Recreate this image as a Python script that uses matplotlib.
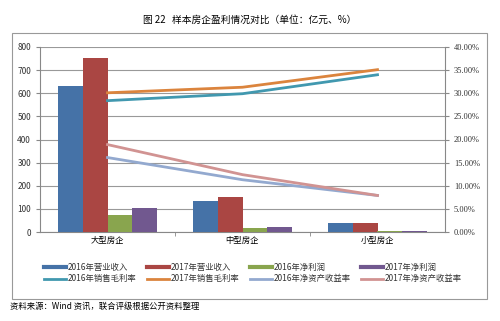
import numpy as np
import matplotlib.pyplot as plt
from matplotlib.patches import Rectangle
from matplotlib.lines import Line2D

plt.rcParams['font.family'] = ['Noto Sans CJK SC', 'DejaVu Sans']
plt.rcParams['axes.unicode_minus'] = False

categories = ['大型房企', '中型房企', '小型房企']
rev_2016 = [630, 135, 40]
rev_2017 = [752, 150, 40]
profit_2016 = [75, 16, 3]
profit_2017 = [105, 22, 3]
gross_2016 = [28.4, 29.9, 34.0]
gross_2017 = [30.1, 31.3, 35.1]
roe_2016 = [16.1, 11.3, 7.9]
roe_2017 = [18.9, 12.4, 7.9]

bar_names = ['2016年营业收入', '2017年营业收入', '2016年净利润', '2017年净利润']
line_names = ['2016年销售毛利率', '2017年销售毛利率', '2016年净资产收益率', '2017年净资产收益率']
bar_colors = ['#4572A7', '#AA4643', '#89A54E', '#71588F']
line_colors = ['#4198AF', '#DB843D', '#93A9CF', '#D19392']

fig = plt.figure(figsize=(5, 3.21), dpi=100)
# outer frame
fig.patches.append(Rectangle((12 / 500, 1 - 299 / 321), 475 / 500, 266 / 321,
                             transform=fig.transFigure, fill=False,
                             edgecolor='#999999', linewidth=0.8))
fig.text(0.5, 1 - 20 / 321, '图 22   样本房企盈利情况对比（单位：亿元、%）',
         ha='center', va='center', fontsize=7)
fig.text(10 / 500, 1 - 306 / 321, '资料来源：Wind 资讯，联合评级根据公开资料整理',
         ha='left', va='center', fontsize=6)

ax = fig.add_axes([40 / 500, 1 - 232 / 321, 405 / 500, 185 / 321])
x = np.arange(len(categories))
w = 0.185
series = [rev_2016, rev_2017, profit_2016, profit_2017]
for i, (vals, c) in enumerate(zip(series, bar_colors)):
    ax.bar(x + (i - 1.5) * w, vals, width=w, color=c, zorder=3)

ax.set_ylim(0, 800)
ax.set_yticks(range(0, 801, 100))
ax.set_xlim(-0.5, 2.5)
ax.set_xticks(x)
ax.set_xticklabels(categories)
ax.set_xticks([0.5, 1.5], minor=True)
ax.tick_params(axis='x', which='major', length=0, labelsize=6, pad=3)
ax.tick_params(axis='x', which='minor', length=3, color='#888888')
ax.tick_params(axis='y', labelsize=6, length=3, color='#888888', labelcolor='#333333')
ax.grid(axis='y', color='#999999', linewidth=0.8, zorder=0)
for s in ['top', 'right']:
    ax.spines[s].set_visible(False)
ax.spines['left'].set_color('#888888')
ax.spines['bottom'].set_color('#888888')

ax2 = ax.twinx()
lines = [gross_2016, gross_2017, roe_2016, roe_2017]
for vals, c in zip(lines, line_colors):
    ax2.plot(x, vals, color=c, linewidth=2, zorder=4)
ax2.set_ylim(0, 40)
ax2.set_yticks(range(0, 41, 5))
ax2.set_yticklabels([f'{v:.2f}%' for v in range(0, 41, 5)],
                    family='Liberation Serif')
ax2.tick_params(axis='y', labelsize=6, length=3, color='#888888', labelcolor='#333333')
for s in ['top', 'left', 'bottom']:
    ax2.spines[s].set_visible(False)
ax2.spines['right'].set_color('#888888')

# legend: bars in first row, lines in second row (matplotlib fills by column)
handles, labels = [], []
for i in range(4):
    handles.append(Line2D([0], [0], color=bar_colors[i], linewidth=3))
    labels.append(bar_names[i])
    handles.append(Line2D([0], [0], color=line_colors[i], linewidth=2))
    labels.append(line_names[i])
fig.legend(handles, labels, ncol=4, loc='center',
           bbox_to_anchor=(253 / 500, 1 - 273 / 321), frameon=False,
           fontsize=6, handlelength=2.6, handletextpad=0.2, columnspacing=1.3,
           labelspacing=0.35, labelcolor='#333333')

fig.savefig('out.png', dpi=100)
